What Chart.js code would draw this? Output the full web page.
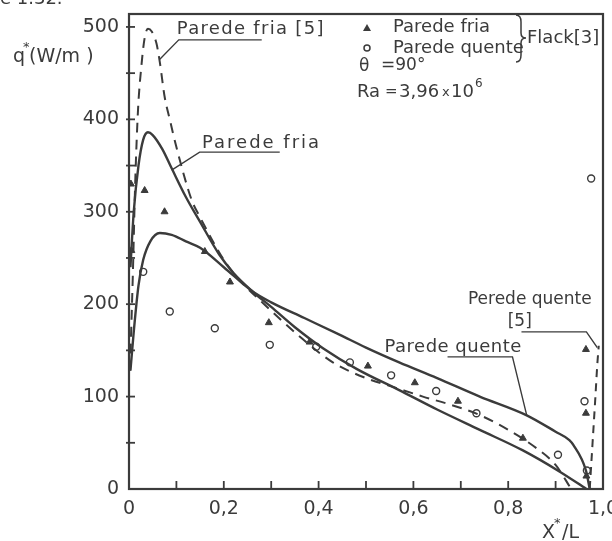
<!DOCTYPE html>
<html><head><meta charset="utf-8">
<script src="https://cdn.jsdelivr.net/npm/chart.js@4/dist/chart.umd.min.js"></script>
<style>html,body{margin:0;padding:0;background:#fff}</style>
</head><body>
<canvas id="c" width="612" height="541" style="width:612px;height:541px;display:block"></canvas>
<script>
// ---- tick labels ----
const xTickValues = [0, 0.2, 0.4, 0.6, 0.8, 1.0];
const xTickLabels = ["0", "0,2", "0,4", "0,6", "0,8", "1,0"];
const xMinorTicks = [0.1, 0.3, 0.5, 0.7, 0.9];
const yTickValues = [0, 100, 200, 300, 400, 500];
const yTickLabels = ["0", "100", "200", "300", "400", "500"];
const yMinorTicks = [50, 150, 250, 350, 450];

// ---- computed: cold wall (solid) ----
const friaCalcX = [0.003, 0.01, 0.02, 0.03, 0.04, 0.05, 0.07, 0.09, 0.12, 0.15, 0.19, 0.22, 0.26, 0.30, 0.35, 0.41, 0.48, 0.57, 0.65, 0.74, 0.83, 0.908, 0.965];
const friaCalcQ = [240, 300, 350, 378, 386, 383, 368, 347, 316, 289, 254, 234, 214, 197, 175, 152, 130, 107, 86, 64, 42, 19, 0];

// ---- computed: hot wall (solid) ----
const quenteCalcX = [0.003, 0.01, 0.02, 0.03, 0.045, 0.065, 0.09, 0.12, 0.15, 0.20, 0.26, 0.30, 0.37, 0.444, 0.50, 0.57, 0.65, 0.74, 0.838, 0.90, 0.929, 0.937, 0.964, 0.972];
const quenteCalcQ = [128, 170, 220, 248, 268, 277, 275, 268, 261, 240, 214, 202, 185, 167, 153, 137, 120, 100, 80, 62, 53, 48, 20, 0];

// ---- reference [5]: cold wall (dashed) ----
const friaRefX = [0.002, 0.008, 0.013, 0.019, 0.026, 0.033, 0.040, 0.048, 0.058, 0.065, 0.075, 0.086, 0.10, 0.132, 0.149, 0.20, 0.226, 0.283, 0.36, 0.43, 0.50, 0.56, 0.62, 0.68, 0.74, 0.80, 0.86, 0.90, 0.933];
const friaRefQ = [128, 230, 330, 410, 457, 488, 498, 495, 482, 462, 425, 400, 370, 313, 295, 248, 230, 201, 165, 137, 120, 110, 100, 91, 80, 64, 44, 26, 0];

// ---- reference [5]: hot wall (dashed) ----
const quenteRefX = [0.972, 0.978, 0.984, 0.988, 0.991];
const quenteRefQ = [0, 50, 100, 135, 155];

// ---- Flack [3] experimental ----
const flackFriaX = [0.004, 0.005, 0.033, 0.075, 0.16, 0.213, 0.295, 0.381, 0.504, 0.603, 0.694, 0.831, 0.964, 0.964, 0.965];
const flackFriaQ = [330, 258, 323, 300, 257, 224, 180, 159, 133, 115, 95, 55, 151, 82, 14];
const flackQuenteX = [0.03, 0.086, 0.181, 0.297, 0.395, 0.466, 0.553, 0.648, 0.733, 0.905, 0.961, 0.975, 0.966];
const flackQuenteQ = [235, 192, 174, 156, 154, 137, 123, 106, 82, 37, 95, 336, 20];

const INK = '#3b3b3b';
const FONT = '"DejaVu Sans", sans-serif';
const pts = (xs, ys) => xs.map((x, i) => ({x, y: ys[i]}));

// annotation labels (positions in data units)
const plotLabels = [
  {text: 'Parede fria [5]', x: 0.101, y: 497, size: 18, spacing: 1.3,
   lines: [[[0.28, 486], [0.105, 486], [0.065, 465]]]},
  {text: 'Parede fria', x: 0.154, y: 374, size: 18, spacing: 2.0,
   lines: [[[0.318, 364.5], [0.149, 364.5], [0.090, 345]]]},
  {text: 'Parede quente', x: 0.539, y: 153, size: 18, spacing: 0.5,
   lines: [[[0.672, 143], [0.809, 143], [0.839, 80]]]},
  {text: 'Perede quente', x: 0.715, y: 204.5, size: 17, spacing: 0,
   lines: [[[0.828, 170], [0.965, 170], [0.988, 153]]]},
  {text: '[5]', x: 0.799, y: 181, size: 17, spacing: 0, lines: []}
];

const decor = {
  id: 'decor',
  afterDraw(chart) {
    const {ctx, chartArea: a, scales: {x: xs, y: ys}} = chart;
    const X = v => xs.getPixelForValue(v), Y = v => ys.getPixelForValue(v);
    ctx.save();
    // frame
    ctx.strokeStyle = INK; ctx.lineWidth = 2.2;
    ctx.strokeRect(a.left, a.top, a.right - a.left, a.bottom - a.top);
    // inward ticks
    ctx.lineWidth = 1.8;
    xTickValues.concat(xMinorTicks).forEach(v => {
      if (v <= 0 || v >= 1) return;
      ctx.beginPath(); ctx.moveTo(X(v), a.bottom); ctx.lineTo(X(v), a.bottom - 8); ctx.stroke();
    });
    yTickValues.concat(yMinorTicks).forEach(v => {
      if (v <= 0) return;
      ctx.beginPath(); ctx.moveTo(a.left - 3, Y(v)); ctx.lineTo(a.left + 6, Y(v)); ctx.stroke();
    });
    // plot labels
    ctx.fillStyle = INK; ctx.textBaseline = 'middle'; ctx.textAlign = 'left';
    plotLabels.forEach(l => {
      ctx.font = l.size + 'px ' + FONT;
      ctx.letterSpacing = l.spacing + 'px';
      ctx.fillText(l.text, X(l.x), Y(l.y));
      ctx.letterSpacing = '0px';
      ctx.lineWidth = 1.4;
      l.lines.forEach(path => {
        ctx.beginPath();
        path.forEach((p, i) => i ? ctx.lineTo(X(p[0]), Y(p[1])) : ctx.moveTo(X(p[0]), Y(p[1])));
        ctx.stroke();
      });
    });
    // legend block
    ctx.font = '18px ' + FONT;
    ctx.beginPath(); ctx.moveTo(367, 24); ctx.lineTo(371, 31); ctx.lineTo(363, 31); ctx.closePath(); ctx.fill();
    ctx.lineWidth = 1.5;
    ctx.beginPath(); ctx.arc(367, 48, 3, 0, Math.PI * 2); ctx.stroke();
    ctx.fillText('Parede fria', 393, 27);
    ctx.fillText('Parede quente', 393, 48);
    // brace
    ctx.lineWidth = 1.5;
    ctx.beginPath();
    ctx.moveTo(516, 15); ctx.quadraticCurveTo(521, 15, 521, 22); ctx.lineTo(521, 33);
    ctx.quadraticCurveTo(521, 38, 526, 38); ctx.quadraticCurveTo(521, 38, 521, 43);
    ctx.lineTo(521, 55); ctx.quadraticCurveTo(521, 62, 516, 62); ctx.stroke();
    ctx.fillText('Flack[3]', 527, 38);
    ctx.font = '17px ' + FONT;
    ctx.fillText('\u03B8', 359, 67);
    ctx.fillText('=90\u00B0', 381, 66);
    ctx.font = '18px ' + FONT;
    ctx.fillText('Ra', 357, 92);
    ctx.font = '15px ' + FONT;
    ctx.fillText('=', 385, 92);
    ctx.font = '18px ' + FONT;
    ctx.fillText('3,96', 399, 92);
    ctx.font = '13px ' + FONT;
    ctx.fillText('x', 442, 93);
    ctx.font = '18px ' + FONT;
    ctx.fillText('10', 451, 92);
    ctx.font = '12px ' + FONT;
    ctx.fillText('6', 475, 84);
    // axis titles
    ctx.font = '19px ' + FONT;
    ctx.fillText('q', 13, 57);
    ctx.fillText('(W/m )', 29, 57);
    ctx.fillText('X', 542, 533);
    ctx.fillText('/L', 562, 533);
    ctx.font = '13px ' + FONT;
    ctx.fillText('*', 23, 48);
    ctx.fillText('*', 554, 524);
    // cropped caption at the very top
    ctx.font = '18px ' + FONT;
    ctx.fillText('e 1.32.', 0, -1);
    ctx.restore();
  }
};

const lineDs = (xs, ys, dash, w) => ({
  type: 'scatter', data: pts(xs, ys), showLine: true, pointRadius: 0,
  borderColor: INK, borderWidth: w, borderDash: dash, cubicInterpolationMode: 'monotone', fill: false
});

const noPad = s => { s.paddingTop = 0; s.paddingBottom = 0; s.paddingLeft = 0; s.paddingRight = 0; };

new Chart(document.getElementById('c'), {
  type: 'scatter',
  data: {
    datasets: [
      lineDs(friaCalcX, friaCalcQ, [], 2.4),
      lineDs(quenteCalcX, quenteCalcQ, [], 2.4),
      lineDs(friaRefX, friaRefQ, [10, 7], 2),
      lineDs(quenteRefX, quenteRefQ, [8, 6], 2),
      {data: pts(flackFriaX, flackFriaQ), pointStyle: 'triangle', pointRadius: 4,
       backgroundColor: INK, borderColor: INK, borderWidth: 1},
      {data: pts(flackQuenteX, flackQuenteQ), pointStyle: 'circle', pointRadius: 3.5,
       backgroundColor: '#fff', borderColor: INK, borderWidth: 1.4}
    ]
  },
  options: {
    responsive: false, animation: false, devicePixelRatio: 1,
    layout: {padding: {left: 0, right: 9, top: 14, bottom: 0}},
    plugins: {legend: {display: false}, tooltip: {enabled: false}},
    scales: {
      x: {
        type: 'linear', min: 0, max: 1,
        afterBuildTicks: s => { s.ticks = xTickValues.map(v => ({value: v})); },
        afterFit: s => { s.height = 52; noPad(s); },
        grid: {display: false, drawTicks: false}, border: {display: false},
        ticks: {callback: (v, i) => xTickLabels[i], color: INK, padding: 9, maxRotation: 0,
                font: {family: FONT, size: 19}}
      },
      y: {
        type: 'linear', min: 0, max: 514,
        afterBuildTicks: s => { s.ticks = yTickValues.map(v => ({value: v})); },
        afterFit: s => { s.width = 129; noPad(s); },
        grid: {display: false, drawTicks: false}, border: {display: false},
        ticks: {callback: (v, i) => yTickLabels[i], color: INK, padding: 10,
                font: {family: FONT, size: 19}}
      }
    }
  },
  plugins: [decor]
});
</script>
</body></html>
